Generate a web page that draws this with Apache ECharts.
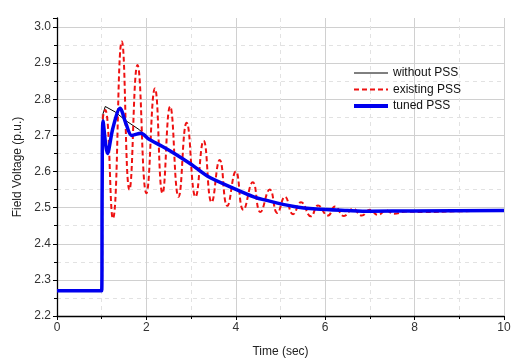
<!DOCTYPE html>
<html><head><meta charset="utf-8">
<script src="https://cdn.jsdelivr.net/npm/echarts@6/dist/echarts.min.js"></script>
<style>html,body{margin:0;padding:0;background:#fff}#c{width:513px;height:360px}</style>
</head><body><div id="c"></div>
<script>
// Time (sec) and field voltage (p.u.)
const withoutT = [0, 1.0, 1.03, 1.08, 1.3, 1.55, 1.85, 2.05, 2.35, 2.68, 3.0, 3.38, 3.94, 4.4, 4.69, 5.3, 5.8, 6.5, 7.0, 8.0, 10];
const withoutV = [2.27, 2.27, 2.76, 2.78, 2.765, 2.74, 2.715, 2.69, 2.67, 2.646, 2.62, 2.586, 2.554, 2.53, 2.52, 2.503, 2.496, 2.492, 2.49, 2.491, 2.492];

const existingT = [0, 1.0, 1.02, 1.08, 1.25, 1.45, 1.62, 1.80, 2.00, 2.19, 2.36, 2.53, 2.72, 2.90, 3.10, 3.28, 3.46, 3.64, 3.81, 4.0, 4.17, 4.38, 4.55, 4.76, 4.93, 5.1, 5.28, 5.46, 5.68, 5.84, 6.06, 6.22, 6.42, 6.62, 6.82, 7.0, 7.18, 7.36, 7.54, 7.8, 8.2, 9.0, 10];
const existingV = [2.27, 2.27, 2.74, 2.77, 2.47, 2.96, 2.55, 2.895, 2.54, 2.83, 2.54, 2.78, 2.53, 2.735, 2.53, 2.685, 2.515, 2.632, 2.505, 2.60, 2.494, 2.57, 2.488, 2.55, 2.485, 2.53, 2.482, 2.515, 2.476, 2.506, 2.478, 2.503, 2.477, 2.497, 2.478, 2.494, 2.48, 2.492, 2.483, 2.489, 2.488, 2.49, 2.491];

const tunedT = [0, 1.0, 1.01, 1.03, 1.13, 1.25, 1.41, 1.55, 1.67, 1.88, 2.05, 2.35, 2.68, 3.0, 3.38, 3.94, 4.4, 4.69, 5.3, 5.8, 6.5, 7.0, 8.0, 10];
const tunedV = [2.27, 2.27, 2.55, 2.74, 2.65, 2.72, 2.775, 2.73, 2.70, 2.706, 2.69, 2.67, 2.646, 2.62, 2.586, 2.554, 2.53, 2.52, 2.503, 2.496, 2.492, 2.49, 2.491, 2.492];

const seriesNames = ['without PSS', 'existing PSS', 'tuned PSS'];
const lineWidths = [1, 2, 4];
const zip = (a, b) => a.map((x, i) => [x, b[i]]);

const font = 'Liberation Sans, Arial, sans-serif';
const chart = echarts.init(document.getElementById('c'));
chart.setOption({
  animation: false,
  grid: {left: 57, right: 9, top: 18, bottom: 44, outerBoundsMode: 'none'},
  legend: {
    orient: 'vertical', left: 347, top: 62, itemWidth: 34, itemHeight: 12, itemGap: 4.5,
    itemStyle: {opacity: 0},
    textStyle: {fontFamily: font, fontSize: 12, color: '#111'},
    data: seriesNames.map((n, i) => ({name: n, lineStyle: {width: lineWidths[i]}}))
  },
  xAxis: {
    type: 'value', min: 0, max: 10, interval: 2,
    name: 'Time (sec)', nameLocation: 'middle', nameGap: 30,
    nameTextStyle: {fontFamily: font, fontSize: 12, color: '#222'},
    axisLine: {onZero: false, lineStyle: {color: '#000', width: 1.3}},
    axisTick: {show: true, length: 4, lineStyle: {color: '#000'}},
    minorTick: {show: true, splitNumber: 2, length: 3, lineStyle: {color: '#000'}},
    axisLabel: {fontFamily: font, fontSize: 12, color: '#333', margin: 6},
    splitLine: {show: true, lineStyle: {color: '#d0d0d0', width: 1}},
    minorSplitLine: {show: true, lineStyle: {color: '#e2e2e2', type: [4, 4]}}
  },
  yAxis: {
    type: 'value', min: 2.2, max: 3.025, interval: 0.1,
    name: 'Field Voltage (p.u.)', nameLocation: 'middle', nameGap: 33,
    nameTextStyle: {fontFamily: font, fontSize: 12, color: '#222'},
    axisLine: {show: true, onZero: false, lineStyle: {color: '#000', width: 1.3}},
    axisTick: {show: true, length: 4, lineStyle: {color: '#000'}},
    minorTick: {show: true, splitNumber: 2, length: 3, lineStyle: {color: '#000'}},
    axisLabel: {fontFamily: font, fontSize: 12, color: '#333', margin: 6, showMaxLabel: false,
      formatter: v => v.toFixed(1)},
    splitLine: {show: true, showMaxLine: false, lineStyle: {color: '#d0d0d0', width: 1}},
    minorSplitLine: {show: true, lineStyle: {color: '#e2e2e2', type: [4, 4]}}
  },
  series: [
    {name: seriesNames[0], type: 'line', symbol: 'none', data: zip(withoutT, withoutV),
      lineStyle: {color: '#000', width: lineWidths[0]}, itemStyle: {color: '#000'}, z: 2},
    {name: seriesNames[1], type: 'line', symbol: 'none', smooth: 0.5, data: zip(existingT, existingV),
      lineStyle: {color: '#ee1111', width: lineWidths[1], type: [5, 3]}, itemStyle: {color: '#ee1111'}, z: 3},
    {name: seriesNames[2], type: 'line', symbol: 'none', smooth: 0.3, data: zip(tunedT, tunedV),
      lineStyle: {color: '#0000ee', width: 3.5}, itemStyle: {color: '#0000ee'}, z: 4}
  ]
});
</script></body></html>
